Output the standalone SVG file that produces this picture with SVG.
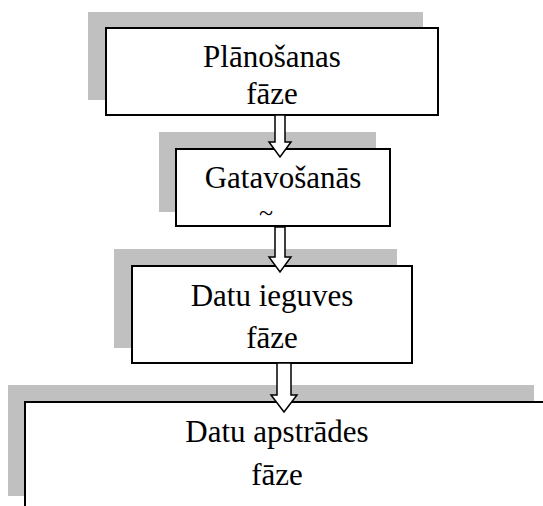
<svg xmlns="http://www.w3.org/2000/svg" width="543" height="506" viewBox="0 0 543 506">
<style>
.shadow{fill:#c0c0c0;stroke:none}
.box{fill:#fff;stroke:#000;stroke-width:2}
.arrow{fill:#fff;stroke:#000;stroke-width:1.5;stroke-linejoin:miter}
.t{font-family:'Liberation Serif','Times New Roman',Times,serif;font-size:31px;fill:#000;text-anchor:middle}
</style>
<rect width="543" height="506" fill="#fff"/>
<g id="node-planosanas">
<rect class="shadow" x="88" y="12" width="335" height="88"/>
<rect class="box" x="106" y="28" width="332" height="87"/>
<text class="t" x="272" y="67">Plānošanas</text>
<text class="t" x="272" y="104">fāze</text>
</g>
<g id="node-gatavosanas">
<rect class="shadow" x="159" y="132" width="217" height="80"/>
<rect class="box" x="176" y="149" width="214" height="77"/>
<text class="t" x="283" y="188">Gatavošanās</text>
<text class="t" x="266" y="221" style="font-size:26px">~</text>
</g>
<g id="node-datu-ieguves">
<rect class="shadow" x="114" y="249" width="283" height="99"/>
<rect class="box" x="132" y="266" width="280" height="97"/>
<text class="t" x="272" y="306">Datu ieguves</text>
<text class="t" x="272" y="348">fāze</text>
</g>
<g id="node-datu-apstrades">
<rect class="shadow" x="8" y="385" width="526" height="111"/>
<rect class="box" x="25" y="402" width="540" height="120"/>
<text class="t" x="277" y="442">Datu apstrādes</text>
<text class="t" x="277" y="485">fāze</text>
</g>
<g id="connectors">
<polygon class="arrow" points="275,115 285,115 285,142 291,142 280,157 269,142 275,142"/>
<polygon class="arrow" points="275,227 285,227 285,257 291,257 280,272 269,257 275,257"/>
<polygon class="arrow" points="277,363 291,363 291,395 297,395 284,412 271,395 277,395"/>
</g>
</svg>
